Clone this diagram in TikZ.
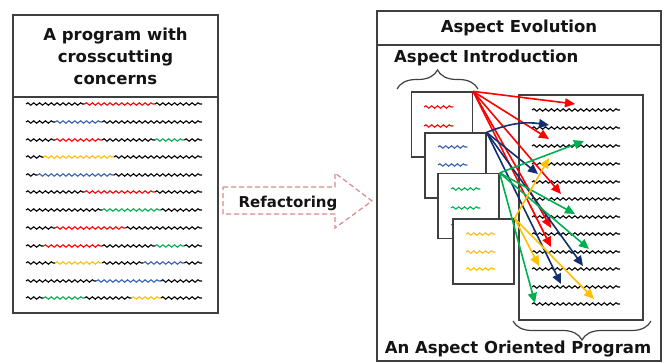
\documentclass[tikz,border=0pt]{standalone}
\usepackage{fontspec}
\setmainfont{DejaVu Sans}
\usepackage{tikz}
\usetikzlibrary{arrows.meta, decorations.pathmorphing, decorations.pathreplacing, positioning}
\definecolor{boxgray}{HTML}{3F3F3F}
\definecolor{textdark}{HTML}{141414}
\definecolor{aspred}{HTML}{FF0000}
\definecolor{aspblue}{HTML}{3560B0}
\definecolor{arrblue}{HTML}{13306E}
\definecolor{aspgreen}{HTML}{00B050}
\definecolor{aspyellow}{HTML}{FFC000}
\definecolor{refpink}{HTML}{D98A8A}
\tikzstyle{panel} = [rectangle, draw=boxgray, line width=1.3pt, inner sep=0pt, outer sep=0pt,
  anchor=north west, align=center, font=\bfseries\fontsize{16.5}{22}\selectfont, text=textdark]
\tikzstyle{title} = [inner sep=0pt, font=\bfseries\fontsize{16.5}{22}\selectfont, text=textdark]
\tikzstyle{card} = [rectangle, draw=boxgray, fill=white, line width=1.2pt, minimum width=61pt,
  minimum height=65pt, inner sep=0pt]
\tikzstyle{wave} = [decorate, decoration={snake, segment length=5.867pt, amplitude=1.2pt}, line width=1.1pt]
\tikzstyle{link} = [-{Triangle[length=10pt,width=9pt]}, line width=1.6pt]
\tikzstyle{brace} = [decorate, decoration={brace, amplitude=19pt}, draw=boxgray, line width=1.2pt]

% one code line: start x, y, list of length/colour pieces
\newcommand{\codeline}[3]{%
  \xdef\cx{#1}%
  \foreach \n/\c in {#3}{%
    \draw[wave, \c] (\cx,#2) -- ++(\n*5.867,0);
    \pgfmathparse{\cx+\n*5.867}\xdef\cx{\pgfmathresult}%
  }%
}

\begin{document}
\begin{tikzpicture}[x=1pt, y=-1pt]
  \useasboundingbox (0,0) rectangle (664,363);

  % program with crosscutting concerns
  \node (head) [panel, minimum width=205pt, minimum height=82pt] at (13,15)
    {A program with\\crosscutting\\concerns};
  \node (body) [panel, minimum width=205pt, minimum height=216pt] at (13,97) {};
  \codeline{26}{104}{10/black, 12/aspred, 8/black}
  \codeline{26}{122}{5/black, 8/aspblue, 17/black}
  \codeline{26}{140}{5/black, 8/aspred, 9/black, 5/aspgreen, 3/black}
  \codeline{26}{157}{3/black, 12/aspyellow, 15/black}
  \codeline{26}{175}{2/black, 13/aspblue, 15/black}
  \codeline{26}{192}{10/black, 12/aspred, 8/black}
  \codeline{26}{210}{13/black, 10/aspgreen, 7/black}
  \codeline{26}{228}{5/black, 12/aspred, 13/black}
  \codeline{26}{246}{3/black, 10/aspred, 9/black, 5/aspgreen, 3/black}
  \codeline{26}{263}{5/black, 8/aspyellow, 7/black, 7/aspblue, 3/black}
  \codeline{26}{281}{12/black, 11/aspblue, 7/black}
  \codeline{26}{298}{3/black, 7/aspgreen, 8/black, 5/aspyellow, 7/black}

  % refactoring arrow
  \draw[refpink, line width=1.2pt, dash pattern=on 5pt off 3pt]
    (223,187) -- (335,187) -- (335,173) -- (372,201) -- (335,228) -- (335,214) -- (223,214) -- cycle;
  \node (refac) [title, font=\bfseries\fontsize{15}{18}\selectfont] at (288,203) {Refactoring};

  % aspect evolution
  \node (evo) [panel, minimum width=284pt, minimum height=34pt] at (377,11) {Aspect Evolution};
  \node (evobody) [panel, minimum width=284pt, minimum height=316pt] at (377,45) {};
  \node (intro) [title, anchor=west] at (394,58) {Aspect Introduction};
  \draw[brace] (397,89) -- (478,89);

  \node (prog) [panel, line width=1.2pt, minimum width=124pt, minimum height=225pt] at (519,95) {};
  \foreach \y in {110,128,146,164,182,199,217,234,252,269,287,304}
    \draw[wave] (532,\y) -- (620,\y);
  \draw[brace] (651,321) -- (513,321);
  \node (aop) [title] at (518,349) {An Aspect Oriented Program};

  \node (c1) [card] at (442,124.5) {};
  \foreach \y in {107,126} \draw[wave, aspred] (424,\y) -- ++(29.3,0);
  \node (c2) [card] at (455.5,165.5) {};
  \foreach \y in {147,165} \draw[wave, aspblue] (438,\y) -- ++(29.3,0);
  \node (c3) [card] at (468.5,206) {};
  \foreach \y in {189,208,225} \draw[wave, aspgreen] (451,\y) -- ++(29.3,0);
  \node (c4) [card] at (483.5,251.5) {};
  \foreach \y in {234,252,269} \draw[wave, aspyellow] (466,\y) -- ++(29.3,0);

  % weaving targets
  \coordinate (r1) at (575,104);
  \coordinate (r2) at (549,139);
  \coordinate (r3) at (561,194);
  \coordinate (r4) at (551,228);
  \coordinate (r5) at (551,247);
  \coordinate (b1) at (549,125);
  \coordinate (b2) at (538,174);
  \coordinate (b3) at (583,266);
  \coordinate (b4) at (561,284);
  \coordinate (g1) at (584,141);
  \coordinate (g2) at (575,214);
  \coordinate (g3) at (589,249);
  \coordinate (g4) at (535,303);
  \coordinate (y1) at (549,158);
  \coordinate (y2) at (539,266);
  \coordinate (y3) at (594,299);

  \foreach \t in {r1,r2,r3,r4,r5} \draw[link, aspred] (c1.north east) -- (\t);
  \draw[link, arrblue] (c2.north east) to[bend left=15] (b1);
  \foreach \t in {b2,b3,b4} \draw[link, arrblue] (c2.north east) -- (\t);
  \foreach \t in {g1,g2,g3,g4} \draw[link, aspgreen] (c3.north east) -- (\t);
  \foreach \t in {y1,y2,y3} \draw[link, aspyellow] (c4.north east) -- (\t);
\end{tikzpicture}
\end{document}
